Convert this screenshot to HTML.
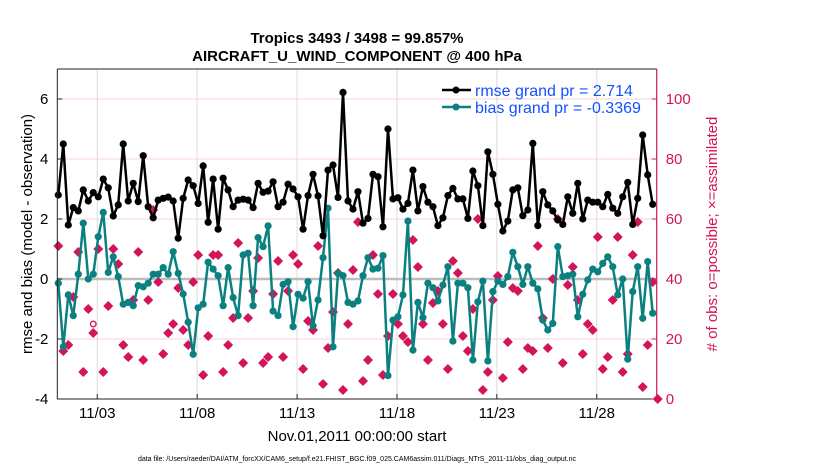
<!DOCTYPE html>
<html><head><meta charset="utf-8"><style>
body{margin:0;background:#fff;}
svg{display:block;font-family:"Liberation Sans",Arial,sans-serif;}
</style></head><body>
<svg id="chart" width="830" height="470" viewBox="0 0 830 470" xmlns="http://www.w3.org/2000/svg">
<g id="grid"></g>
<g id="marks"></g>
<g id="axes"></g>
<text x="357" y="43" text-anchor="middle" font-size="15" font-weight="bold">Tropics 3493 / 3498 = 99.857%</text>
<text x="357" y="61" text-anchor="middle" font-size="15" font-weight="bold">AIRCRAFT_U_WIND_COMPONENT @ 400 hPa</text>
<text transform="translate(32,234) rotate(-90)" text-anchor="middle" font-size="15">rmse and bias (model - observation)</text>
<text transform="translate(717,234) rotate(-90)" text-anchor="middle" font-size="15" fill="#d4145a">#  of obs: o=possible; ×=assimilated</text>
<text x="357" y="441" text-anchor="middle" font-size="15">Nov.01,2011 00:00:00 start</text>
<text x="357" y="461" text-anchor="middle" font-size="7">data file: /Users/raeder/DAI/ATM_forcXX/CAM6_setup/f.e21.FHIST_BGC.f09_025.CAM6assim.011/Diags_NTrS_2011-11/obs_diag_output.nc</text>
<g>
<line x1="442" y1="90" x2="471" y2="90" stroke="#000" stroke-width="2.5"/>
<circle cx="456" cy="90" r="3.5" fill="#000"/>
<text x="475" y="96" font-size="16" fill="#1550ff">rmse grand pr = 2.714</text>
<line x1="442" y1="107" x2="471" y2="107" stroke="#0b8080" stroke-width="2.5"/>
<circle cx="456" cy="107" r="3.5" fill="#0b8080"/>
<text x="475" y="113" font-size="16" fill="#1550ff">bias grand pr = -0.3369</text>
</g>
</svg>
<script>
const rmse=[2.8,4.5,1.8,2.38,2.27,2.97,2.6,2.88,2.74,3.33,3.04,2.1,2.47,4.5,2.6,3.19,2.58,4.11,2.41,2.04,2.63,2.69,2.73,2.6,1.36,2.69,3.3,3.11,2.52,3.77,1.89,3.33,1.66,3.36,2.97,2.41,2.63,2.66,2.63,2.38,3.19,2.89,2.93,3.24,2.41,2.56,3.16,3.0,2.74,1.66,2.78,3.49,2.77,1.44,3.63,3.8,2.72,6.22,2.6,2.33,2.91,1.86,2.02,3.49,3.41,1.74,5.0,2.67,2.71,2.33,2.52,3.63,2.27,3.08,2.56,2.41,1.78,2.04,2.78,3.02,2.67,2.67,2.02,3.6,3.11,1.78,4.24,3.49,2.49,1.6,1.93,2.97,3.04,2.11,2.3,4.52,1.78,2.91,2.47,2.27,1.97,1.82,2.74,2.19,3.19,2.0,2.63,2.56,2.56,2.41,2.82,2.36,2.19,2.74,3.22,1.82,2.69,4.8,3.47,2.49];
const bias=[-0.14,-2.26,-0.53,-1.22,0.16,1.86,0,0.16,1.41,2.22,0.22,0.74,0.08,-0.84,-0.78,-0.89,-0.22,-0.26,-0.14,0.16,0.16,0.38,0.16,0.91,0.19,-0.5,-1.44,-2.51,-0.96,-0.84,0.56,0.33,0.11,-0.89,0.38,-0.62,-1.22,0.8,0.86,-0.89,1.38,1.08,1.77,-1.07,-1.22,-0.18,-0.09,-1.59,-0.51,-0.64,-0.09,-1.56,-0.7,0.71,2.36,-2.26,0.19,0.11,-0.78,-0.84,-0.73,0.11,0.71,0.33,0.36,0.78,-3.22,-1.37,-1.26,-0.53,1.93,-2.37,-0.78,-1.29,-0.14,-0.29,-0.73,-0.2,0.41,-2.07,-0.14,-0.14,-0.29,-2.7,-0.76,-0.07,-2.73,-0.42,-0.07,-0.18,0.08,0.89,0.41,-0.18,0.41,-0.14,-0.33,-1.37,-1.7,-1.48,1.08,0.08,0.11,0.16,-1.26,-0.51,-0.03,0.33,0.24,0.52,0.74,0.41,-0.53,0,-2.67,-0.42,0.41,-1.31,0.58,-1.14];
const nUsed=[51,16,18,34,49,9,30,22,50,9,31,50,45,18,14,33,49,13,33,63,39,15,22,25,37,23,18,39,48,8,21,48,48,9,18,27,52,12,27,36,47,12,14,35,46,14,36,48,45,10,26,23,51,5,17,29,42,3,25,43,59,6,13,48,35,8,21,35,25,21,19,53,44,25,13,32,36,25,10,46,42,21,16,30,60,3,9,33,41,7,19,37,36,10,17,16,51,27,17,40,60,12,38,44,33,15,25,23,54,10,14,33,54,9,15,48,59,4,18,39,0];
const nPoss=nUsed.map((v,i)=>i===7?25:(i===13?18:v));
const xTickLabels=["11/03","11/08","11/13","11/18","11/23","11/28"];
const xTickDays=[2,7,12,17,22,27];
const yTicks=[-4,-2,0,2,4,6];
const rTicks=[0,20,40,60,80,100];

const L=57.3,R=656.7,T=69,B=399;
const X=d=>L+(d/30)*(R-L);
const Y=v=>B-(v+4)/11*(B-T);
const YR=n=>B-n/110*(B-T);
const tOf=i=>i*0.25+0.05;
const NS='http://www.w3.org/2000/svg';
function mk(tag,attrs,parent){const e=document.createElementNS(NS,tag);for(const k in attrs)e.setAttribute(k,attrs[k]);parent.appendChild(e);return e;}
const grid=document.getElementById('grid'),marks=document.getElementById('marks'),axes=document.getElementById('axes');

rTicks.forEach(n=>{const l=mk('line',{x1:L,x2:R,y1:YR(n),y2:YR(n),stroke:'#f8d2e2','stroke-width':1},grid);

});
xTickDays.forEach(d=>{const l=mk('line',{x1:X(d),x2:X(d),y1:T,y2:B,stroke:'#dcdcdc','stroke-width':1},grid);

});
const z=mk('line',{x1:L,x2:R,y1:Y(0),y2:Y(0),stroke:'#bdbdbd','stroke-width':2.5},grid);



// obs counts
nPoss.forEach((n,i)=>{const c=mk('circle',{cx:X(tOf(i)),cy:YR(n),r:2.8,fill:'none',stroke:'#d4145a','stroke-width':1.3},marks);

});
nUsed.forEach((n,i)=>{const x=X(tOf(i)),y=YR(n);const p=mk('polygon',{points:`${x},${y-5} ${x+5},${y} ${x},${y+5} ${x-5},${y}`,fill:'#d4145a'},marks);

});

function series(arr,color,name){
 const pts=arr.map((v,i)=>`${X(tOf(i)).toFixed(1)},${Y(v).toFixed(1)}`).join(' ');
 const pl=mk('polyline',{points:pts,fill:'none',stroke:color,'stroke-width':2.5,'stroke-linejoin':'round'},marks);
 
 
 arr.forEach((v,i)=>{const c=mk('circle',{cx:X(tOf(i)),cy:Y(v),r:3.6,fill:color},marks);
 
 });
}
series(bias,'#0b8080','bias');
series(rmse,'#000000','rmse');

// axes frame
mk('line',{x1:L,x2:R,y1:T,y2:T,stroke:'#222','stroke-width':1},axes);
mk('line',{x1:L,x2:R,y1:B,y2:B,stroke:'#222','stroke-width':1},axes);
mk('line',{x1:L,x2:L,y1:T,y2:B,stroke:'#222','stroke-width':1},axes);
mk('line',{x1:R,x2:R,y1:T,y2:B,stroke:'#d4145a','stroke-width':1.2},axes);
yTicks.forEach(v=>{mk('line',{x1:L,x2:L+5,y1:Y(v),y2:Y(v),stroke:'#222'},axes);
 const t=mk('text',{x:L-9,y:Y(v)+5,'text-anchor':'end','font-size':15},axes);t.textContent=v;
 
 });
rTicks.forEach(n=>{mk('line',{x1:R-5,x2:R,y1:YR(n),y2:YR(n),stroke:'#d4145a'},axes);
 const t=mk('text',{x:R+9,y:YR(n)+5,'font-size':15,fill:'#d4145a'},axes);t.textContent=n;
 
 });
xTickDays.forEach((d,k)=>{mk('line',{x1:X(d),x2:X(d),y1:B,y2:B-5,stroke:'#222'},axes);
 const t=mk('text',{x:X(d),y:B+19,'text-anchor':'middle','font-size':15},axes);t.textContent=xTickLabels[k];
 
 });
</script>
</body></html>
